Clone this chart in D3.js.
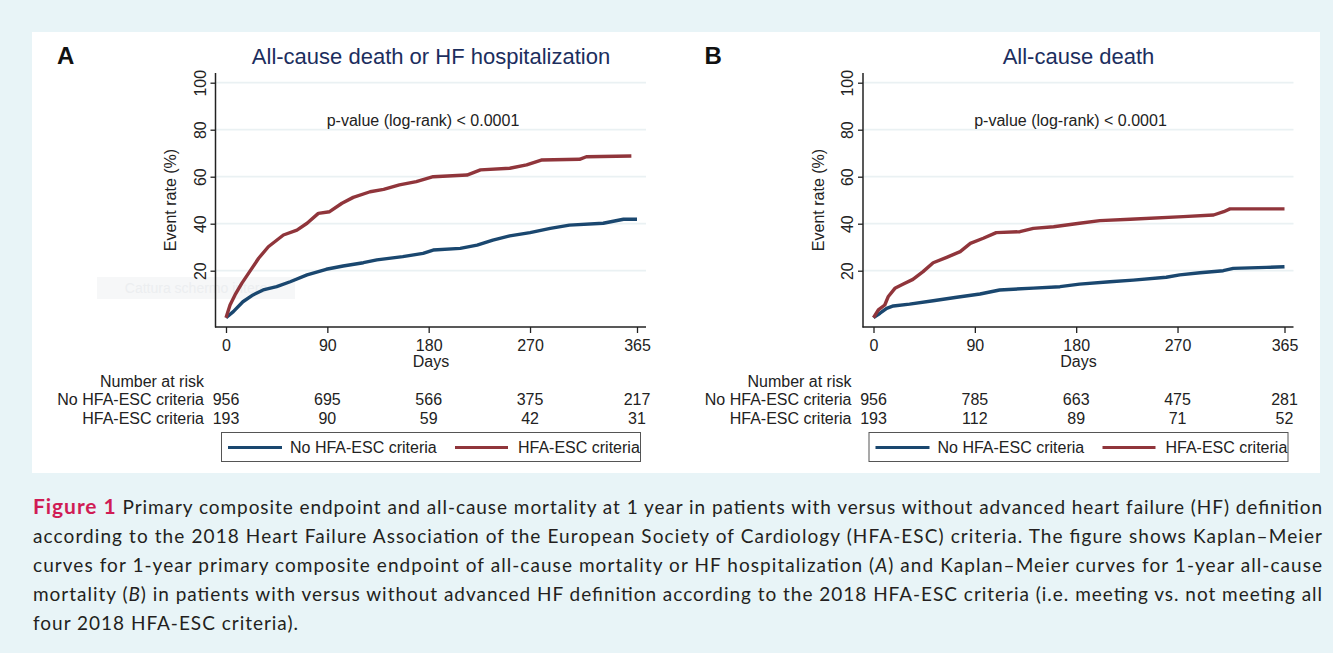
<!DOCTYPE html>
<html>
<head>
<meta charset="utf-8">
<script src="https://cdn.jsdelivr.net/npm/d3@7"></script>
<style>
  body { margin: 0; background: #e8f4f7; }
  svg text { font-family: 'Liberation Sans', Arial, sans-serif; }
  .cap text { font-family: Lato, 'Open Sans', sans-serif; }
</style>
</head>
<body>
<script>
// x axis ticks (days) and y ticks (event rate %)
var dayTicks = [0, 90, 180, 270, 365]
var rateTicks = [20, 40, 60, 80, 100]
var groups = ['No HFA-ESC criteria', 'HFA-ESC criteria']
var letters = ['A', 'B']
var titles = ['All-cause death or HF hospitalization', 'All-cause death']
var pText = 'p-value (log-rank) < 0.0001'

// number at risk
var riskA_no = [956, 695, 566, 375, 217]
var riskA_hfa = [193, 90, 59, 42, 31]
var riskB_no = [956, 785, 663, 475, 281]
var riskB_hfa = [193, 112, 89, 71, 52]

// Kaplan-Meier failure curves, [day, event rate %]
var kmA_no = [[0, 0], [6.5, 2.6], [15, 6.8], [24, 9.7], [33, 11.8], [45, 13.2], [57, 15.3], [72, 18.2], [89, 20.6], [104, 22], [122, 23.4], [134, 24.6], [157, 26], [175, 27.4], [184, 28.8], [208, 29.5], [223, 30.9], [237, 33], [252, 34.8], [270, 36.2], [288, 38], [305, 39.4], [335, 40.2], [353, 41.9], [365, 41.9]]
var kmA_hfa = [[0, 0], [3.6, 5.4], [8, 9.7], [14, 14.6], [21, 19.6], [29, 25.3], [37.6, 30.2], [51, 35.2], [63, 37.3], [72, 40.2], [82, 44.4], [92, 45.1], [103, 48.7], [113, 51.2], [128, 53.6], [140, 54.6], [154, 56.5], [169, 57.9], [184, 60], [214, 60.7], [226, 62.9], [252, 63.6], [267, 65], [280, 67.1], [314, 67.4], [320, 68.5], [360, 68.8]]
var kmB_no = [[0, 0], [5.8, 1.9], [11.7, 4], [17.6, 5], [32, 5.8], [53, 7.2], [74, 8.7], [94.6, 10.1], [112, 11.8], [142, 12.6], [165.6, 13.2], [183, 14.3], [210, 15.3], [230.7, 16], [260, 17.2], [272, 18.2], [290, 19.1], [310.6, 20], [319.5, 21], [349, 21.4], [365, 21.7]]
var kmB_hfa = [[0, 0], [4.3, 3.3], [10, 5.4], [13, 8.9], [19, 12.5], [26.5, 14.3], [35, 16.3], [44, 19.6], [53, 23.4], [65, 25.7], [77, 28.1], [86, 31.6], [97.5, 33.8], [109, 36.2], [130, 36.6], [142, 38], [160, 38.7], [183, 40.2], [201, 41.3], [228, 41.9], [275, 43], [302, 43.7], [311, 45.1], [316.6, 46.3], [365, 46.3]]

var captionLines = [
  ' Primary composite endpoint and all-cause mortality at 1 year in patients with versus without advanced heart failure (HF) definition',
  'according to the 2018 Heart Failure Association of the European Society of Cardiology (HFA-ESC) criteria. The figure shows Kaplan\u2013Meier',
  'curves for 1-year primary composite endpoint of all-cause mortality or HF hospitalization (|A|) and Kaplan\u2013Meier curves for 1-year all-cause',
  'mortality (|B|) in patients with versus without advanced HF definition according to the 2018 HFA-ESC criteria (i.e. meeting vs. not meeting all',
  'four 2018 HFA-ESC criteria).'
]

var colors = ['#1a476f', '#90353b']
var w = 1333
var h = 653

var svg = d3.select('body')
  .append('svg')
  .attr('width', w)
  .attr('height', h)

svg.append('rect')
  .attr('width', w).attr('height', h)
  .attr('fill', '#e8f4f7')

svg.append('rect')
  .attr('x', 32).attr('y', 32)
  .attr('width', 1288).attr('height', 441)
  .attr('fill', '#fff')

var x = d3.scaleLinear().domain([0, 365]).range([226, 637])
var y = d3.scaleLinear().domain([0, 100]).range([317.7, 82.7])

var panels = [
  {curves: [kmA_no, kmA_hfa], risk: [riskA_no, riskA_hfa], dx: 0},
  {curves: [kmB_no, kmB_hfa], risk: [riskB_no, riskB_hfa], dx: 647.5}
]

panels.forEach(function (p, i) {
  var g = svg.append('g').attr('transform', 'translate(' + p.dx + ',0)')

  if (i === 0) {
    // faint screenshot tooltip left in the picture
    g.append('rect')
      .attr('x', 97).attr('y', 277).attr('width', 198).attr('height', 22)
      .attr('fill', '#f6f7f8')
    g.append('text')
      .attr('x', 196).attr('y', 293)
      .attr('text-anchor', 'middle')
      .style('font-size', '14px')
      .attr('fill', '#eceef0')
      .text('Cattura schermo intero')
  }

  g.append('text')
    .attr('x', 57).attr('y', 64)
    .style('font-size', '24px').style('font-weight', 'bold')
    .attr('fill', '#111')
    .text(letters[i])

  g.append('text')
    .attr('x', 431).attr('y', 64)
    .attr('text-anchor', 'middle')
    .style('font-size', '22px')
    .attr('fill', '#1c2e5e')
    .text(titles[i])

  // gridlines
  g.selectAll('.grid')
    .data(rateTicks)
    .enter()
    .append('line')
    .attr('x1', 216).attr('x2', 646)
    .attr('y1', function (d) { return y(d) })
    .attr('y2', function (d) { return y(d) })
    .attr('stroke', '#eaf1f3')
    .attr('stroke-width', 1.8)

  var yAxis = d3.axisLeft(y).tickValues(rateTicks).tickSize(5).tickSizeOuter(0)
  var yg = g.append('g')
    .attr('transform', 'translate(215.5,0)')
    .call(yAxis)
  yg.select('.domain').remove()
  yg.selectAll('line').attr('stroke', '#222').attr('stroke-width', 1.3)
  yg.selectAll('text')
    .attr('x', null).attr('dy', null)
    .attr('text-anchor', 'middle')
    .attr('transform', 'translate(-10,0) rotate(-90)')
    .attr('fill', '#222')
    .style('font-size', '16px')
    .style('font-family', "'Liberation Sans', Arial, sans-serif")

  var xAxis = d3.axisBottom(x).tickValues(dayTicks).tickSize(6).tickSizeOuter(0)
  var xg = g.append('g')
    .attr('transform', 'translate(0,327)')
    .call(xAxis)
  xg.select('.domain').remove()
  xg.selectAll('line').attr('stroke', '#222').attr('stroke-width', 1.3)
  xg.selectAll('text')
    .attr('y', 13)
    .attr('fill', '#222')
    .style('font-size', '16px')
    .style('font-family', "'Liberation Sans', Arial, sans-serif")

  g.append('line')
    .attr('x1', 215.5).attr('x2', 215.5).attr('y1', 73).attr('y2', 327.5)
    .attr('stroke', '#222').attr('stroke-width', 1.5)
  g.append('line')
    .attr('x1', 215).attr('x2', 646).attr('y1', 327).attr('y2', 327)
    .attr('stroke', '#222').attr('stroke-width', 1.5)

  g.append('text')
    .attr('transform', 'translate(176,200) rotate(-90)')
    .attr('text-anchor', 'middle')
    .style('font-size', '16px')
    .attr('fill', '#222')
    .text('Event rate (%)')

  g.append('text')
    .attr('x', 431).attr('y', 367)
    .attr('text-anchor', 'middle')
    .style('font-size', '16px')
    .attr('fill', '#222')
    .text('Days')

  g.append('text')
    .attr('x', 423).attr('y', 126)
    .attr('text-anchor', 'middle')
    .style('font-size', '16px')
    .attr('fill', '#222')
    .text(pText)

  var line = d3.line()
    .x(function (d) { return x(d[0]) })
    .y(function (d) { return y(d[1]) })

  g.selectAll('.km')
    .data(p.curves)
    .enter()
    .append('path')
    .attr('d', line)
    .attr('fill', 'none')
    .attr('stroke', function (d, k) { return colors[k] })
    .attr('stroke-width', 3.4)
    .attr('stroke-linejoin', 'round')

  // number at risk table
  g.append('text')
    .attr('x', 204).attr('y', 387)
    .attr('text-anchor', 'end')
    .style('font-size', '16px')
    .attr('fill', '#222')
    .text('Number at risk')

  p.risk.forEach(function (row, k) {
    var ry = 405 + k * 19
    g.append('text')
      .attr('x', 204).attr('y', ry)
      .attr('text-anchor', 'end')
      .style('font-size', '16px')
      .attr('fill', '#222')
      .text(groups[k])
    g.selectAll('.risk' + k)
      .data(row)
      .enter()
      .append('text')
      .attr('x', function (d, j) { return x(dayTicks[j]) })
      .attr('y', ry)
      .attr('text-anchor', 'middle')
      .style('font-size', '16px')
      .attr('fill', '#222')
      .text(function (d) { return d })
  })

  // legend
  g.append('rect')
    .attr('x', 221.5).attr('y', 432.5).attr('width', 419).attr('height', 29)
    .attr('fill', '#fff').attr('stroke', '#555').attr('stroke-width', 1)
  var legX = [[228, 282, 290], [455, 508, 518]]
  groups.forEach(function (name, k) {
    g.append('line')
      .attr('x1', legX[k][0]).attr('x2', legX[k][1])
      .attr('y1', 447.5).attr('y2', 447.5)
      .attr('stroke', colors[k]).attr('stroke-width', 3.2)
    g.append('text')
      .attr('x', legX[k][2]).attr('y', 453)
      .style('font-size', '16px')
      .attr('fill', '#222')
      .text(name)
  })
})

// caption
var cap = svg.append('g').attr('class', 'cap')
var capEnds = [1322, 1322, 1322, 1322, 298]
captionLines.forEach(function (txt, i) {
  var t = cap.append('text')
    .attr('x', 33).attr('y', 514 + i * 29)
    .style('font-size', '19px')
    .attr('fill', '#231f20')
    .attr('textLength', capEnds[i] - 33)
    .attr('lengthAdjust', 'spacing')
  if (i === 0) {
    t.append('tspan')
      .style('font-weight', 'bold')
      .style('font-size', '21px')
      .attr('fill', '#d01c55')
      .text('Figure 1')
  }
  txt.split('|').forEach(function (part, k) {
    t.append('tspan')
      .style('font-style', k % 2 ? 'italic' : 'normal')
      .text(part)
  })
})
</script>
</body>
</html>
